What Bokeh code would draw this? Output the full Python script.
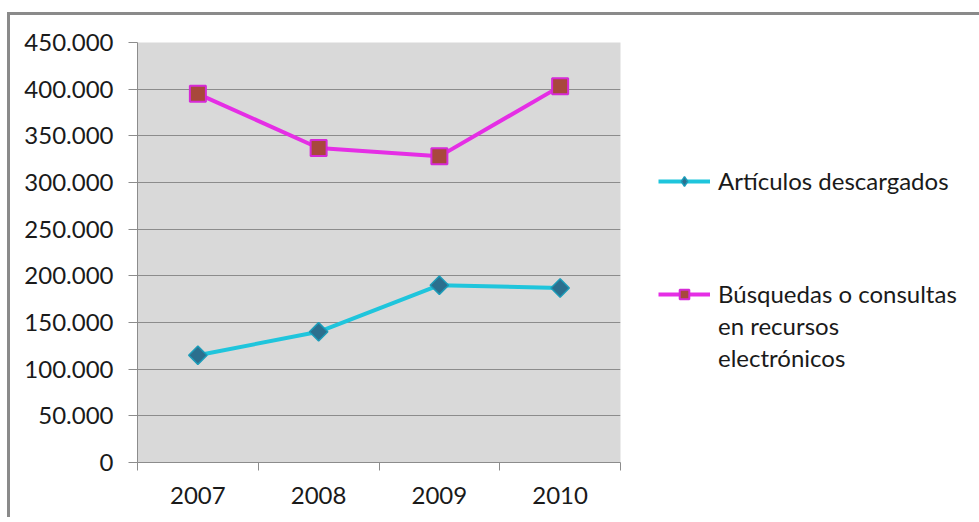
import math
from bokeh.plotting import figure
from bokeh.models import FixedTicker, Legend, LegendItem, Range1d
from bokeh.embed import file_html
from bokeh.resources import INLINE

years = ["2007", "2008", "2009", "2010"]
articulos = [115000, 140000, 190000, 187000]
busquedas = [395000, 337000, 328000, 403000]
y_ticks = [0, 50000, 100000, 150000, 200000, 250000, 300000, 350000, 400000, 450000]
legend_labels = ["Artículos descargados", "Búsquedas o consultas", "en recursos", "electrónicos"]

FONT = "Lato"
GRID = "#8c8c8c"

xs = [i + 0.5 for i in range(len(years))]

p = figure(frame_width=483, frame_height=420, output_backend="svg", toolbar_location=None,
           x_range=Range1d(0, len(years)), y_range=Range1d(y_ticks[0], y_ticks[-1]),
           min_border_left=127, min_border_right=348, min_border_top=27, min_border_bottom=55)
p.styles = {"border-left": "3px solid #8a8a8a", "border-top": "3px solid #8a8a8a",
            "margin-top": "12px", "margin-left": "7px"}
p.background_fill_color = "#d9d9d9"
p.border_fill_color = "white"
p.outline_line_color = None

# axes
p.xaxis.ticker = FixedTicker(ticks=xs, minor_ticks=list(range(len(years) + 1)))
p.xaxis.major_label_overrides = {x: y for x, y in zip(xs, years)}
p.xaxis.major_tick_line_color = None
p.xaxis.minor_tick_out = 8
p.xaxis.minor_tick_in = 0
p.xaxis.minor_tick_line_color = GRID
p.xaxis.axis_line_color = GRID
p.xaxis.major_label_standoff = 16
p.yaxis.ticker = FixedTicker(ticks=y_ticks)
p.yaxis.major_label_overrides = {v: f"{v:,}".replace(",", ".") for v in y_ticks}
p.yaxis.major_tick_out = 9
p.yaxis.major_tick_in = 0
p.yaxis.major_tick_line_color = GRID
p.yaxis.minor_tick_line_color = None
p.yaxis.axis_line_color = GRID
p.yaxis.major_label_standoff = 15
for ax in (p.xaxis, p.yaxis):
    ax.major_label_text_font = FONT
    ax.major_label_text_font_size = "24px"
    ax.major_label_text_color = "#1a1a1a"

p.xgrid.grid_line_color = None
p.ygrid.ticker = FixedTicker(ticks=y_ticks)
p.ygrid.grid_line_color = GRID
p.ygrid.grid_line_width = 1

l1 = p.line(xs, articulos, line_color="#1fc5dc", line_width=4)
# diamond glyph used for the legend (hidden beneath the rotated-square markers)
lg1 = p.scatter(xs, articulos, marker="diamond", size=12, fill_color="#2b6f8e",
                line_color="#1b9bb8", line_width=1.5)
m1 = p.scatter(xs, articulos, marker="square", angle=math.pi / 4, size=13,
               fill_color="#2b6f8e", line_color="#1b9bb8", line_width=1.5)
l2 = p.line(xs, busquedas, line_color="#e52ee5", line_width=4)
m2 = p.scatter(xs, busquedas, marker="square", size=16, fill_color="#a8483c",
               line_color="#d62ad6", line_width=2)
blank = p.scatter(x=[], y=[], size=0, fill_alpha=0, line_alpha=0)

items = [LegendItem(label=legend_labels[0], renderers=[l1, lg1])]
items += [LegendItem(label=" ", renderers=[blank]) for _ in range(3)]
items += [LegendItem(label=legend_labels[1], renderers=[l2, m2]),
          LegendItem(label=legend_labels[2], renderers=[blank]),
          LegendItem(label=legend_labels[3], renderers=[blank])]

legend = Legend(items=items, location=(38, 90), orientation="vertical", spacing=3,
                padding=0, margin=0, glyph_width=52, glyph_height=24,
                label_standoff=8, label_text_font=FONT, label_text_font_size="24px",
                label_text_color="#1a1a1a", border_line_color=None,
                background_fill_alpha=0, label_height=24)
p.add_layout(legend, "right")

open("out.html", "w").write(file_html(p, INLINE))
